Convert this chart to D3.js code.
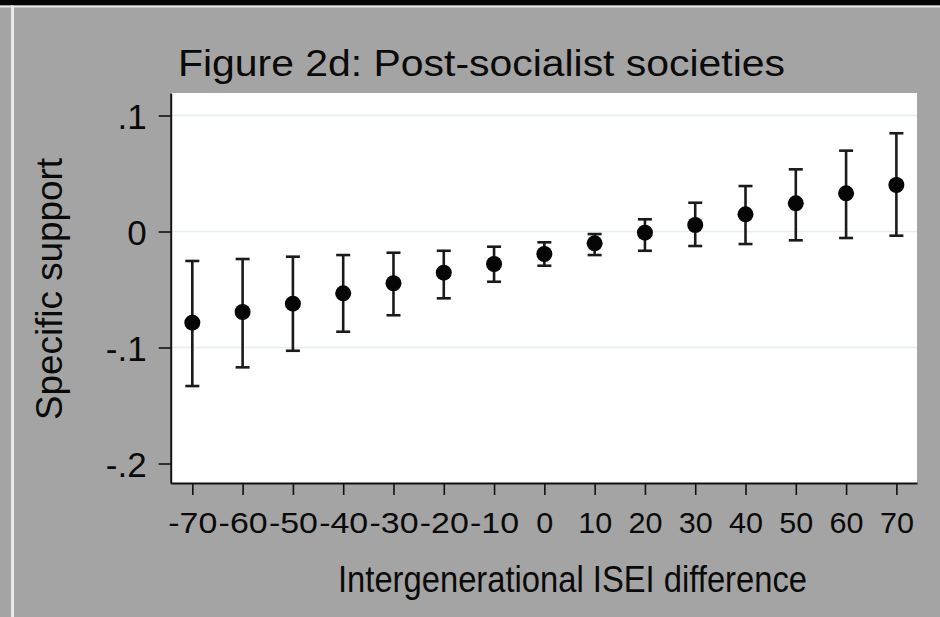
<!DOCTYPE html>
<html>
<head>
<meta charset="utf-8">
<script src="https://cdn.jsdelivr.net/npm/d3@7"></script>
<style>
  html, body { margin: 0; padding: 0; background: #a4a4a4; }
  svg { display: block; }
  text { font-family: Arial, "Liberation Sans", sans-serif; fill: #0a0a0a; }
</style>
</head>
<body>
<svg id="chart" width="940" height="617"></svg>
<script>
// Intergenerational ISEI difference (x) and estimated specific support with 95% CI
const iseiDiff = [-70, -60, -50, -40, -30, -20, -10, 0, 10, 20, 30, 40, 50, 60, 70];
const estimate = [-0.0786, -0.0694, -0.0622, -0.0533, -0.0446, -0.0355, -0.0280, -0.0194, -0.0102, -0.0010, 0.0056, 0.0148, 0.0243, 0.0329, 0.0401];
const ciLower  = [-0.1332, -0.1171, -0.1028, -0.0864, -0.0722, -0.0576, -0.0433, -0.0295, -0.0203, -0.0166, -0.0125, -0.0108, -0.0076, -0.0056, -0.0036];
const ciUpper  = [-0.0254, -0.0237, -0.0217, -0.0203, -0.0183, -0.0166, -0.0131, -0.0093, -0.0022, 0.0105, 0.0248, 0.0392, 0.0536, 0.0697, 0.0847];

const yTickValues = [-0.2, -0.1, 0, 0.1];
const yTickLabels = ["-.2", "-.1", "0", ".1"];
const yGridValues = [-0.1, 0, 0.1];
const xTickValues = [-70, -60, -50, -40, -30, -20, -10, 0, 10, 20, 30, 40, 50, 60, 70];
const xTickLabels = ["-70", "-60", "-50", "-40", "-30", "-20", "-10", "0", "10", "20", "30", "40", "50", "60", "70"];

const titleText = "Figure 2d: Post-socialist societies";
const yTitle = "Specific support";
const xTitle = "Intergenerational ISEI difference";

const svg = d3.select("#chart");
const W = 940, H = 617;

// window frame: dark top band with a light rule, light vertical rule at left
svg.append("rect").attr("x", 0).attr("y", 0).attr("width", W).attr("height", H).attr("fill", "#a4a4a4");
svg.append("rect").attr("x", 0).attr("y", 0).attr("width", W).attr("height", 5.5).attr("fill", "#050505");
svg.append("rect").attr("x", 0).attr("y", 5.5).attr("width", W).attr("height", 2).attr("fill", "#e4e6e6");
svg.append("rect").attr("x", 11).attr("y", 5.5).attr("width", 3).attr("height", H).attr("fill", "#e8eaea");

const plot = { left: 170.7, right: 917, top: 93, bottom: 483 };

const x = d3.scaleLinear().domain([-74.3, 74.1]).range([plot.left, plot.right]);
const y = d3.scaleLinear().domain([-0.2168, 0.1194]).range([plot.bottom, plot.top]);

// plot region
svg.append("rect")
  .attr("x", plot.left).attr("y", plot.top)
  .attr("width", plot.right - plot.left).attr("height", plot.bottom - plot.top)
  .attr("fill", "#ffffff");

// horizontal grid
svg.append("g").selectAll("line").data(yGridValues).join("line")
  .attr("x1", plot.left).attr("x2", plot.right)
  .attr("y1", d => y(d)).attr("y2", d => y(d))
  .attr("stroke", "#e5eef0").attr("stroke-width", 1.6);

// helper: width of a tick label with the hinted glyph advances
const digitW = 17, dashW = 15, dotW = 9;
function labelWidth(s) {
  let w = 0;
  for (const ch of s) w += ch === "-" ? dashW : ch === "." ? dotW : digitW;
  return w;
}

// y axis
const yAxis = d3.axisLeft(y).tickValues(yTickValues)
  .tickFormat((d, i) => yTickLabels[i]).tickSize(12).tickSizeOuter(0).tickPadding(10);
const gy = svg.append("g").attr("transform", `translate(${plot.left},0)`).call(yAxis);
gy.select(".domain").attr("stroke", "#111").attr("stroke-width", 2);
gy.selectAll(".tick line").attr("stroke", "#111").attr("stroke-width", 1.6);
gy.selectAll(".tick text")
  .attr("font-size", 35).attr("fill", "#0a0a0a")
  .attr("x", -24).attr("dy", null).attr("y", 13)
  .attr("font-family", "Arial, 'Liberation Sans', sans-serif");

// x axis
const xAxis = d3.axisBottom(x).tickValues(xTickValues)
  .tickFormat((d, i) => xTickLabels[i]).tickSize(12).tickSizeOuter(0).tickPadding(8);
const gx = svg.append("g").attr("transform", `translate(0,${plot.bottom})`).call(xAxis);
gx.select(".domain").attr("stroke", "#111").attr("stroke-width", 2);
gx.selectAll(".tick line").attr("stroke", "#111").attr("stroke-width", 1.6);
gx.selectAll(".tick text")
  .attr("font-size", 30).attr("fill", "#0a0a0a")
  .attr("dy", null).attr("y", 50)
  .attr("font-family", "Arial, 'Liberation Sans', sans-serif")
  .attr("textLength", (d, i) => labelWidth(xTickLabels[i]))
  .attr("lengthAdjust", "spacingAndGlyphs");

// error bars with caps
const capHalf = 7;
const bars = svg.append("g").attr("stroke", "#1a1a1a").attr("stroke-width", 2.6);
bars.selectAll("line.ci").data(iseiDiff).join("line").attr("class", "ci")
  .attr("x1", d => x(d)).attr("x2", d => x(d))
  .attr("y1", (d, i) => y(ciLower[i])).attr("y2", (d, i) => y(ciUpper[i]));
bars.selectAll("line.capHi").data(iseiDiff).join("line").attr("class", "capHi")
  .attr("x1", d => x(d) - capHalf).attr("x2", d => x(d) + capHalf)
  .attr("y1", (d, i) => y(ciUpper[i])).attr("y2", (d, i) => y(ciUpper[i]));
bars.selectAll("line.capLo").data(iseiDiff).join("line").attr("class", "capLo")
  .attr("x1", d => x(d) - capHalf).attr("x2", d => x(d) + capHalf)
  .attr("y1", (d, i) => y(ciLower[i])).attr("y2", (d, i) => y(ciLower[i]));

// point estimates
svg.append("g").selectAll("circle").data(iseiDiff).join("circle")
  .attr("cx", d => x(d)).attr("cy", (d, i) => y(estimate[i]))
  .attr("r", 8).attr("fill", "#050505");

// titles
svg.append("text").attr("x", 178).attr("y", 76)
  .attr("font-size", 36).attr("textLength", 607).attr("lengthAdjust", "spacingAndGlyphs")
  .text(titleText);

svg.append("text")
  .attr("transform", "translate(62,289) rotate(-90)")
  .attr("text-anchor", "middle")
  .attr("font-size", 36).attr("textLength", 262).attr("lengthAdjust", "spacingAndGlyphs")
  .text(yTitle);

svg.append("text").attr("x", 338).attr("y", 592)
  .attr("font-size", 36).attr("textLength", 469).attr("lengthAdjust", "spacingAndGlyphs")
  .text(xTitle);
</script>
</body>
</html>
